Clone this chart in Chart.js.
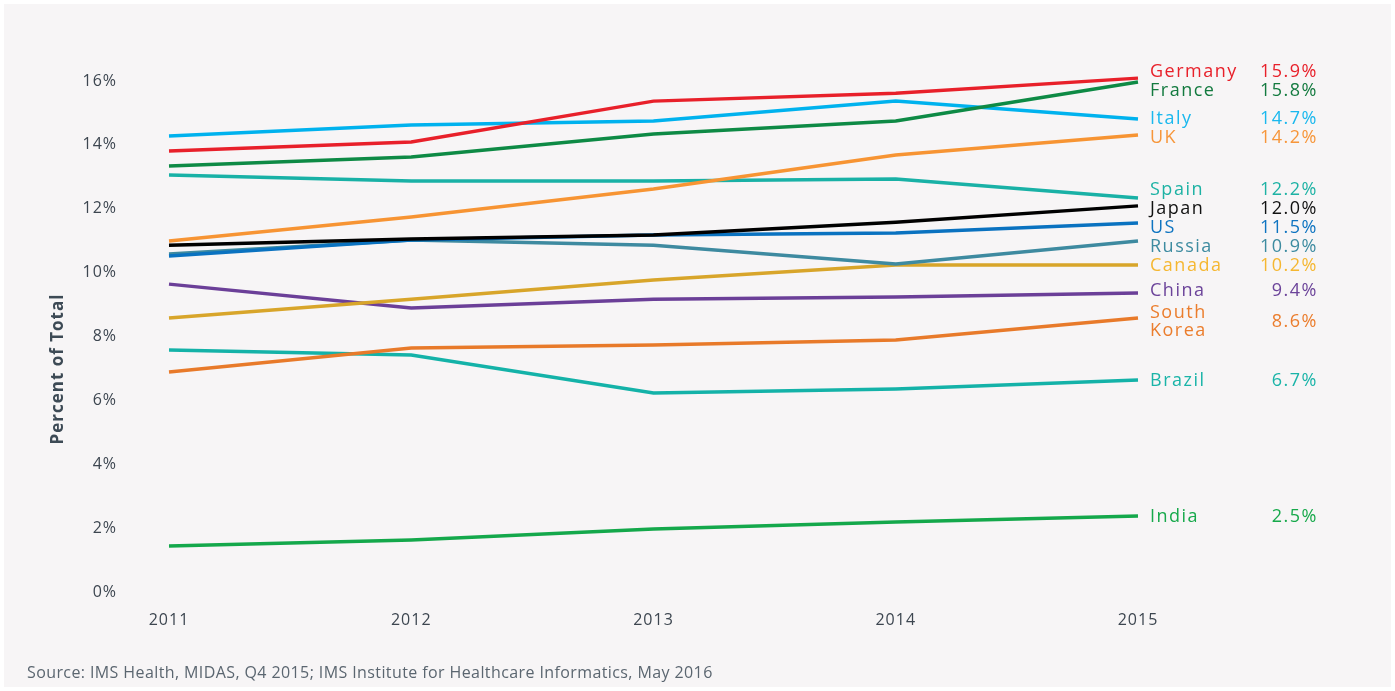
<!DOCTYPE html>
<html>
<head>
<meta charset="utf-8">
<script src="https://cdn.jsdelivr.net/npm/chart.js@4"></script>
<style>
  html, body { margin: 0; padding: 0; background: #ffffff; }
  #wrap { position: absolute; left: 0; top: 0; width: 1395px; height: 691px; }
</style>
</head>
<body>
<div id="wrap"><canvas id="chart"></canvas></div>
<script>
const years = ['2011', '2012', '2013', '2014', '2015'];
const countries = ['Germany', 'France', 'Italy', 'UK', 'Spain', 'Japan', 'US', 'Russia', 'Canada', 'China', 'South Korea', 'Brazil', 'India'];

const germany = [13.81, 14.09, 15.37, 15.62, 16.09];
const france = [13.34, 13.62, 14.34, 14.75, 15.97];
const italy = [14.28, 14.62, 14.75, 15.37, 14.81];
const uk = [10.99, 11.74, 12.62, 13.68, 14.31];
const spain = [13.06, 12.87, 12.87, 12.93, 12.34];
const japan = [10.86, 11.05, 11.18, 11.58, 12.09];
const us = [10.52, 11.02, 11.18, 11.24, 11.55];
const russia = [10.58, 11.02, 10.86, 10.27, 10.99];
const canada = [8.58, 9.17, 9.77, 10.24, 10.24];
const china = [9.64, 8.89, 9.17, 9.24, 9.36];
const southKorea = [6.89, 7.64, 7.73, 7.89, 8.58];
const brazil = [7.58, 7.42, 6.23, 6.36, 6.64];
const india = [1.44, 1.63, 1.97, 2.19, 2.38];

const latestLabels = ['15.9%', '15.8%', '14.7%', '14.2%', '12.2%', '12.0%', '11.5%', '10.9%', '10.2%', '9.4%', '8.6%', '6.7%', '2.5%'];
const yTicks = [0, 2, 4, 6, 8, 10, 12, 14, 16];

const lineColors = ['#e8202a', '#0e8a45', '#00b2ee', '#f79433', '#19b1a6', '#000000', '#0a72c0', '#3e8aa0', '#d8a52a', '#6b3f98', '#e87a2a', '#14b2a8', '#14a84b'];
const labelColors = ['#e8202a', '#137a3f', '#1ab8ee', '#f7963a', '#1db2a4', '#111111', '#0e74c1', '#3d8ba0', '#f5b731', '#6c449a', '#eb7d2d', '#1ab4a8', '#17a94b'];

const seriesData = [germany, france, italy, uk, spain, japan, us, russia, canada, china, southKorea, brazil, india];

const FONT = "'Open Sans', sans-serif";

const backgroundPlugin = {
    id: 'panelBackground',
    beforeDraw(chart) {
        const ctx = chart.ctx;
        ctx.fillStyle = '#f7f5f6';
        ctx.fillRect(4, 4, chart.width - 8, chart.height - 8);
        // wider tracking for the axis tick labels too
        ctx.letterSpacing = '1px';
    }
};

const endLabelsPlugin = {
    id: 'endLabels',
    afterDatasetsDraw(chart) {
        const ctx = chart.ctx;
        const items = chart.data.datasets.map((ds, i) => {
            const meta = chart.getDatasetMeta(i);
            const pt = meta.data[meta.data.length - 1];
            const lines = countries[i] === 'South Korea' ? ['South', 'Korea'] : [countries[i]];
            return { i, y: pt.y, lines, h: lines.length === 2 ? 44 : 19 };
        }).sort((a, b) => a.y - b.y);

        // push overlapping labels apart
        for (let iter = 0; iter < 300; iter++) {
            for (let k = 1; k < items.length; k++) {
                const need = (items[k - 1].h + items[k].h) / 2;
                const overlap = need - (items[k].y - items[k - 1].y);
                if (overlap > 0) {
                    items[k - 1].y -= overlap / 2;
                    items[k].y += overlap / 2;
                }
            }
        }

        ctx.save();
        ctx.font = '18px ' + FONT;
        ctx.letterSpacing = '1.5px';
        ctx.textBaseline = 'middle';
        items.forEach(item => {
            const y = item.y + 1;
            ctx.fillStyle = labelColors[item.i];
            ctx.textAlign = 'left';
            const top = y - (item.lines.length - 1) * 9;
            item.lines.forEach((txt, j) => ctx.fillText(txt, 1150, top + j * 18));
            ctx.textAlign = 'right';
            ctx.fillText(latestLabels[item.i], 1318, y);
        });
        ctx.restore();
    }
};

const textPlugin = {
    id: 'extraText',
    afterDraw(chart) {
        const ctx = chart.ctx;
        ctx.save();
        ctx.fillStyle = '#3d4a55';
        ctx.font = 'bold 17px ' + FONT;
        ctx.letterSpacing = '1px';
        ctx.textAlign = 'center';
        ctx.textBaseline = 'middle';
        ctx.translate(58, 369);
        ctx.rotate(-Math.PI / 2);
        ctx.fillText('Percent of Total', 0, 0);
        ctx.restore();

        ctx.save();
        ctx.fillStyle = '#5b6670';
        ctx.font = '16px ' + FONT;
        ctx.letterSpacing = '0.4px';
        ctx.textAlign = 'left';
        ctx.textBaseline = 'middle';
        ctx.fillText('Source: IMS Health, MIDAS, Q4 2015; IMS Institute for Healthcare Informatics, May 2016', 27, 673);
        ctx.restore();
    }
};

new Chart(document.getElementById('chart'), {
    type: 'line',
    data: {
        labels: years,
        datasets: countries.map((name, i) => ({
            label: name,
            data: seriesData[i],
            borderColor: lineColors[i],
            backgroundColor: lineColors[i],
            borderWidth: 3.5,
            pointRadius: 0,
            tension: 0,
            fill: false,
            clip: false
        }))
    },
    options: {
        responsive: true,
        maintainAspectRatio: false,
        animation: false,
        layout: { padding: { left: 44, right: 257, top: 81, bottom: 0 } },
        plugins: {
            legend: { display: false },
            tooltip: { enabled: false }
        },
        scales: {
            x: {
                offset: false,
                grid: { display: false, drawTicks: false },
                border: { display: false },
                ticks: {
                    color: '#3d4650',
                    padding: 19,
                    font: { family: FONT, size: 16 },
                    maxRotation: 0
                },
                afterFit(scale) { scale.height = 99; }
            },
            y: {
                min: 0,
                max: 16,
                grid: { display: false, drawTicks: false },
                border: { display: false },
                afterBuildTicks(scale) {
                    scale.ticks = yTicks.map(v => ({ value: v }));
                },
                ticks: {
                    color: '#3d4650',
                    padding: 52,
                    font: { family: FONT, size: 16 },
                    callback: v => v + '%'
                },
                afterFit(scale) { scale.width = 125; }
            }
        }
    },
    plugins: [backgroundPlugin, endLabelsPlugin, textPlugin]
});
</script>
</body>
</html>
